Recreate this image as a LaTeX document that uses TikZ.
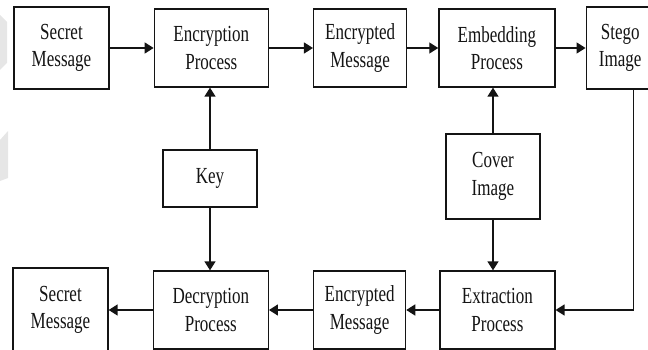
\documentclass[tikz,border=0pt]{standalone}
\usepackage{fontspec}
\setmainfont{Liberation Serif}[FakeStretch=0.74]
\usepackage{xcolor}
\usepackage{tikz}
\usetikzlibrary{arrows.meta,positioning,calc}
\definecolor{StegoInk}{HTML}{141414}
\definecolor{StegoMark}{HTML}{E6E6E6}

\begin{document}
\begin{tikzpicture}[
  x=1pt, y=1pt,
  node distance=44pt,
  every node/.style={font=\fontsize{23}{27.5}\selectfont, text=StegoInk},
  block/.style={draw=StegoInk, line width=1.3pt, fill=white, minimum width=#1, minimum height=78pt, align=center, inner sep=2pt},
  block/.default=94pt,
  arrow/.style={-{Triangle[length=9pt, width=11pt]}, line width=1.4pt, color=StegoInk}
]
\useasboundingbox (0,0) rectangle (648,-350);
% faint marks at the left edge
\fill[StegoMark] (0,-15) -- (7,-22) -- (7,-63) -- (0,-70) -- cycle;
\fill[StegoMark] (0,-140) -- (8,-131) -- (8,-178) -- (0,-181) -- cycle;

% sender side
\node[block=95pt, minimum height=82pt] (secret) at (61.5,-48) {Secret\\Message};
\node[block=114pt, right=of secret] (encrypt) {Encryption\\Process};
\node[block=93pt, right=of encrypt] (cipher) {Encrypted\\Message};
\node[block=116pt, right=31pt of cipher] (embed) {Embedding\\Process};
\node[block=68pt, minimum height=82pt, right=30pt of embed] (stego) {Stego\\Image};

\node[block, minimum height=57pt] (key) at (210,-178.5) {Key};
\node[block, minimum height=85pt] (cover) at (493,-176.5) {Cover\\Image};

% receiver side
\node[block=95pt, minimum height=84pt] (recovered) at (60.5,-310) {Secret\\Message};
\node[block=115pt, right=44pt of recovered] (decrypt) {Decryption\\Process};
\node[block=92pt, right=44pt of decrypt] (cipherout) {Encrypted\\Message};
\node[block=115pt, right=33pt of cipherout] (extract) {Extraction\\Process};

\draw[arrow] (secret) -- (encrypt);
\draw[arrow] (encrypt) -- (cipher);
\draw[arrow] (cipher) -- (embed);
\draw[arrow] (embed) -- (stego);
\draw[arrow] (key.north) -- (key.north |- encrypt.south);
\draw[arrow] (key.south) -- (key.south |- decrypt.north);
\draw[arrow] (cover.north) -- (cover.north |- embed.south);
\draw[arrow] (cover.south) -- (cover.south |- extract.north);
\draw[arrow] ([xshift=13pt]stego.south) |- (extract);
\draw[arrow] (extract) -- (cipherout);
\draw[arrow] (cipherout) -- (decrypt);
\draw[arrow] (decrypt) -- (recovered);
\end{tikzpicture}
\end{document}
